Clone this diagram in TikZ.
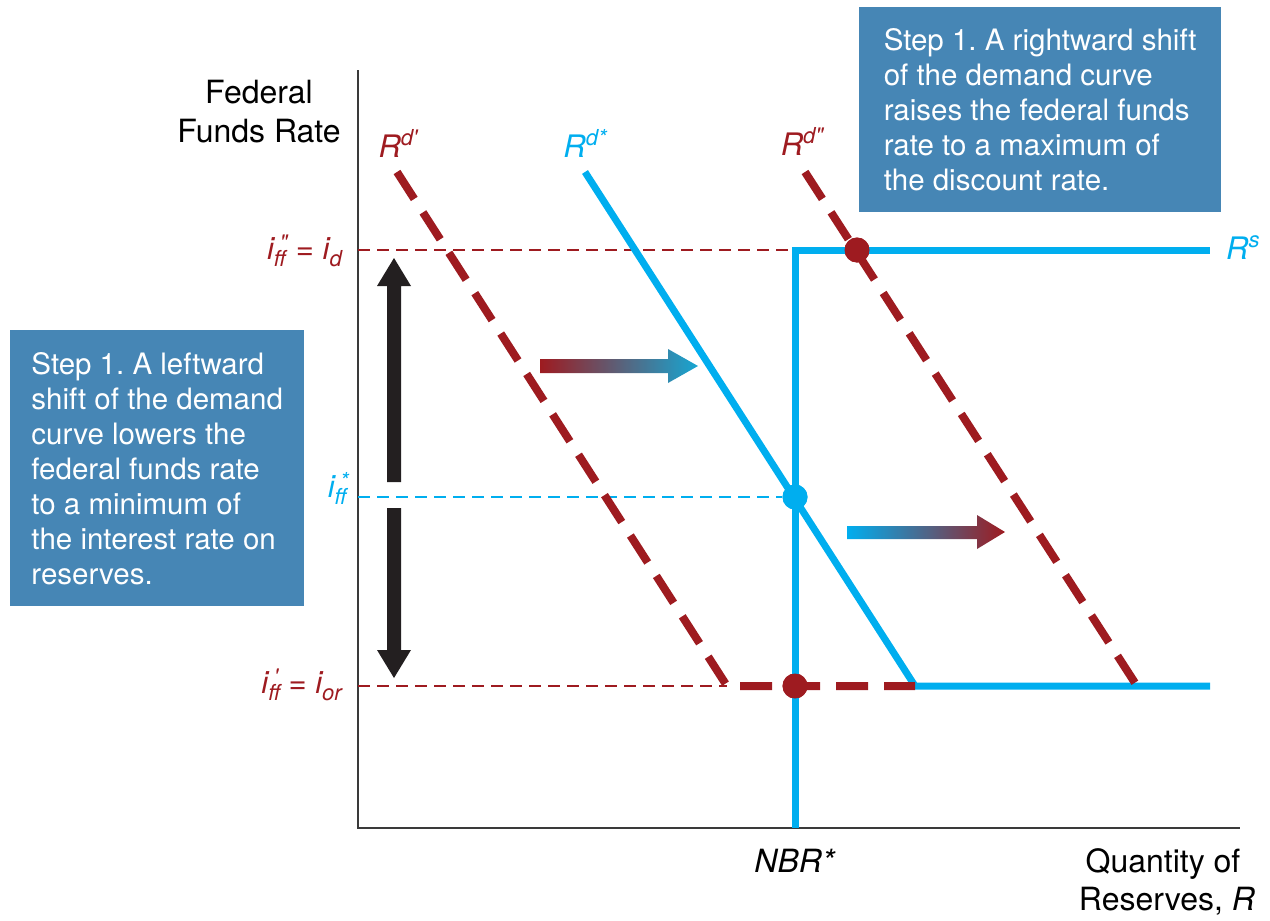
\documentclass[tikz,border=0pt]{standalone}
\usepackage{fontspec}
\setmainfont{TeX Gyre Heros}
\usetikzlibrary{arrows.meta}
\definecolor{dred}{HTML}{9E1B20}
\definecolor{cblue}{HTML}{00AEEF}
\definecolor{boxblue}{HTML}{4686B5}
\definecolor{tealend}{HTML}{17A6D2}
\definecolor{axisgray}{HTML}{3A3A3A}
\definecolor{arrowblack}{HTML}{231F20}
\newcommand\smallit[1]{{\fontsize{22}{22}\selectfont\itshape #1}}
\newcommand\lsup[1]{\raisebox{0.36em}{\smallit{#1}}}
\newcommand\lsub[1]{\raisebox{-0.25em}{\smallit{#1}}}
\newcommand\lsupsub[2]{\raisebox{-0.25em}{\vbox{\baselineskip=16pt\lineskiplimit=-100pt
  \hbox{\hspace{0.18em}\smallit{#1}}\hbox{\smallit{#2}}}}}
\frenchspacing
\begin{document}
\begin{tikzpicture}[x=1pt,y=-1pt,
  axisline/.style={draw=axisgray, line width=1.8pt},
  guide/.style={line width=1.8pt, dash pattern=on 12pt off 7pt},
  demand/.style={draw=dred, line width=8pt, dash pattern=on 32pt off 16pt},
  supply/.style={draw=cblue, line width=7pt},
  dot/.style={circle, inner sep=0pt, minimum size=25pt},
  lbl/.style={inner sep=0pt, font=\fontsize{31}{34}\selectfont\itshape},
  axlbl/.style={inner sep=0pt, font=\fontsize{32}{36}\selectfont, text=black},
  stepbox/.style={fill=boxblue, text=white, inner sep=0pt, align=left,
    font=\fontsize{29.5}{35}\selectfont, anchor=north west}]
\useasboundingbox (0,0) rectangle (1270,921);

% coordinates
\coordinate (O) at (358,828);
\coordinate (ytop) at (358,70);
\coordinate (xend) at (1240,828);
\coordinate (gTopL) at (358,250);
\coordinate (gMidL) at (358,497);
\coordinate (gBotL) at (358,686);
\coordinate (sBot) at (795,828);
\coordinate (sKnee) at (795,250);
\coordinate (sEnd) at (1210,250);
\coordinate (dsTop) at (585,172);
\coordinate (dsKnee) at (915,686);
\coordinate (dsEnd) at (1210,686);
\coordinate (dpTop) at (397,172);
\coordinate (dpKnee) at (727,686);
\coordinate (ddTop) at (805,172);
\coordinate (ddEnd) at (1137,686);

% boxes
\node[stepbox, minimum width=294pt, minimum height=276pt] (leftbox) at (10,330)
  {Step 1. A leftward\\shift of the demand\\curve lowers the\\federal funds rate\\to a minimum of\\the interest rate on\\reserves.};
\node[stepbox, minimum width=362pt, minimum height=205pt] (rightbox) at (859,7)
  {Step 1. A rightward shift\\of the demand curve\\raises the federal funds\\rate to a maximum of\\the discount rate.};

% axes
\draw[axisline] (ytop) -- (O) -- (xend);

% dots (positions) for guides
\node[dot, fill=dred] (dotTop) at (857,250) {};
\node[dot, fill=cblue] (dotMid) at (795,497) {};
\node[dot, fill=dred] (dotBot) at (795,686) {};

% guide lines
\draw[guide, dred] (gTopL) -- (sKnee);
\draw[guide, cblue] (gMidL) -- (dotMid);
\draw[guide, dred] (gBotL) -- (dpKnee);

% supply and demand
\draw[supply] (sBot) -- (sKnee) -- (sEnd);
\draw[supply] (dsTop) -- (dsKnee) -- (dsEnd);
\draw[demand] (dpTop) -- (dpKnee) -- (dsKnee);
\draw[demand] (ddTop) -- (ddEnd);

% dots on top
\node[dot, fill=dred] at (dotTop) {};
\node[dot, fill=cblue] at (dotMid) {};
\node[dot, fill=dred] at (dotBot) {};

% black double arrow
\fill[arrowblack] (387,482) -- (387,286) -- (377,286) -- (394,258) -- (411,286) -- (401,286) -- (401,482) -- cycle;
\fill[arrowblack] (387,508) -- (387,650) -- (377,650) -- (394,678) -- (411,650) -- (401,650) -- (401,508) -- cycle;

% gradient arrows
\shade[left color=dred, right color=tealend] (540,359) -- (668,359) -- (668,349) -- (698,366) -- (668,383) -- (668,373) -- (540,373) -- cycle;
\shade[left color=cblue, right color=dred] (847,526) -- (977,526) -- (977,515) -- (1005,532) -- (977,549) -- (977,539) -- (847,539) -- cycle;

% curve labels
\node[lbl, text=dred, anchor=base] (lRdp) at (398,157) {R\lsup{d\textquotesingle}};
\node[lbl, text=cblue, anchor=base] (lRds) at (585,157) {R\lsup{d*}};
\node[lbl, text=dred, anchor=base] (lRdd) at (802,155) {R\lsup{d\textquotedbl}};
\node[lbl, text=cblue, anchor=base west] (lRs) at (1226,259) {R\lsup{s}};

% rate labels
\node[lbl, text=dred, anchor=base east] (lTop) at (342,259) {i\lsupsub{\textquotedbl}{ff} {\upshape =} i\lsub{d}};
\node[lbl, text=cblue, anchor=base east] (lMid) at (349,497) {i\lsupsub{*}{ff}};
\node[lbl, text=dred, anchor=base east] (lBot) at (342,693) {i\lsupsub{\textquotesingle}{ff} {\upshape =} i\lsub{or}};

% axis labels
\node[axlbl, anchor=base] (yl1) at (259,103) {Federal};
\node[axlbl, anchor=base] (yl2) at (259,142) {Funds Rate};
\node[axlbl, anchor=base] (xl1) at (1163,872) {Quantity of};
\node[axlbl, anchor=base] (xl2) at (1167,910) {Reserves, \textit{R}};
\node[axlbl, anchor=base] (nbr) at (795,872) {\textit{NBR*}};
\end{tikzpicture}
\end{document}
